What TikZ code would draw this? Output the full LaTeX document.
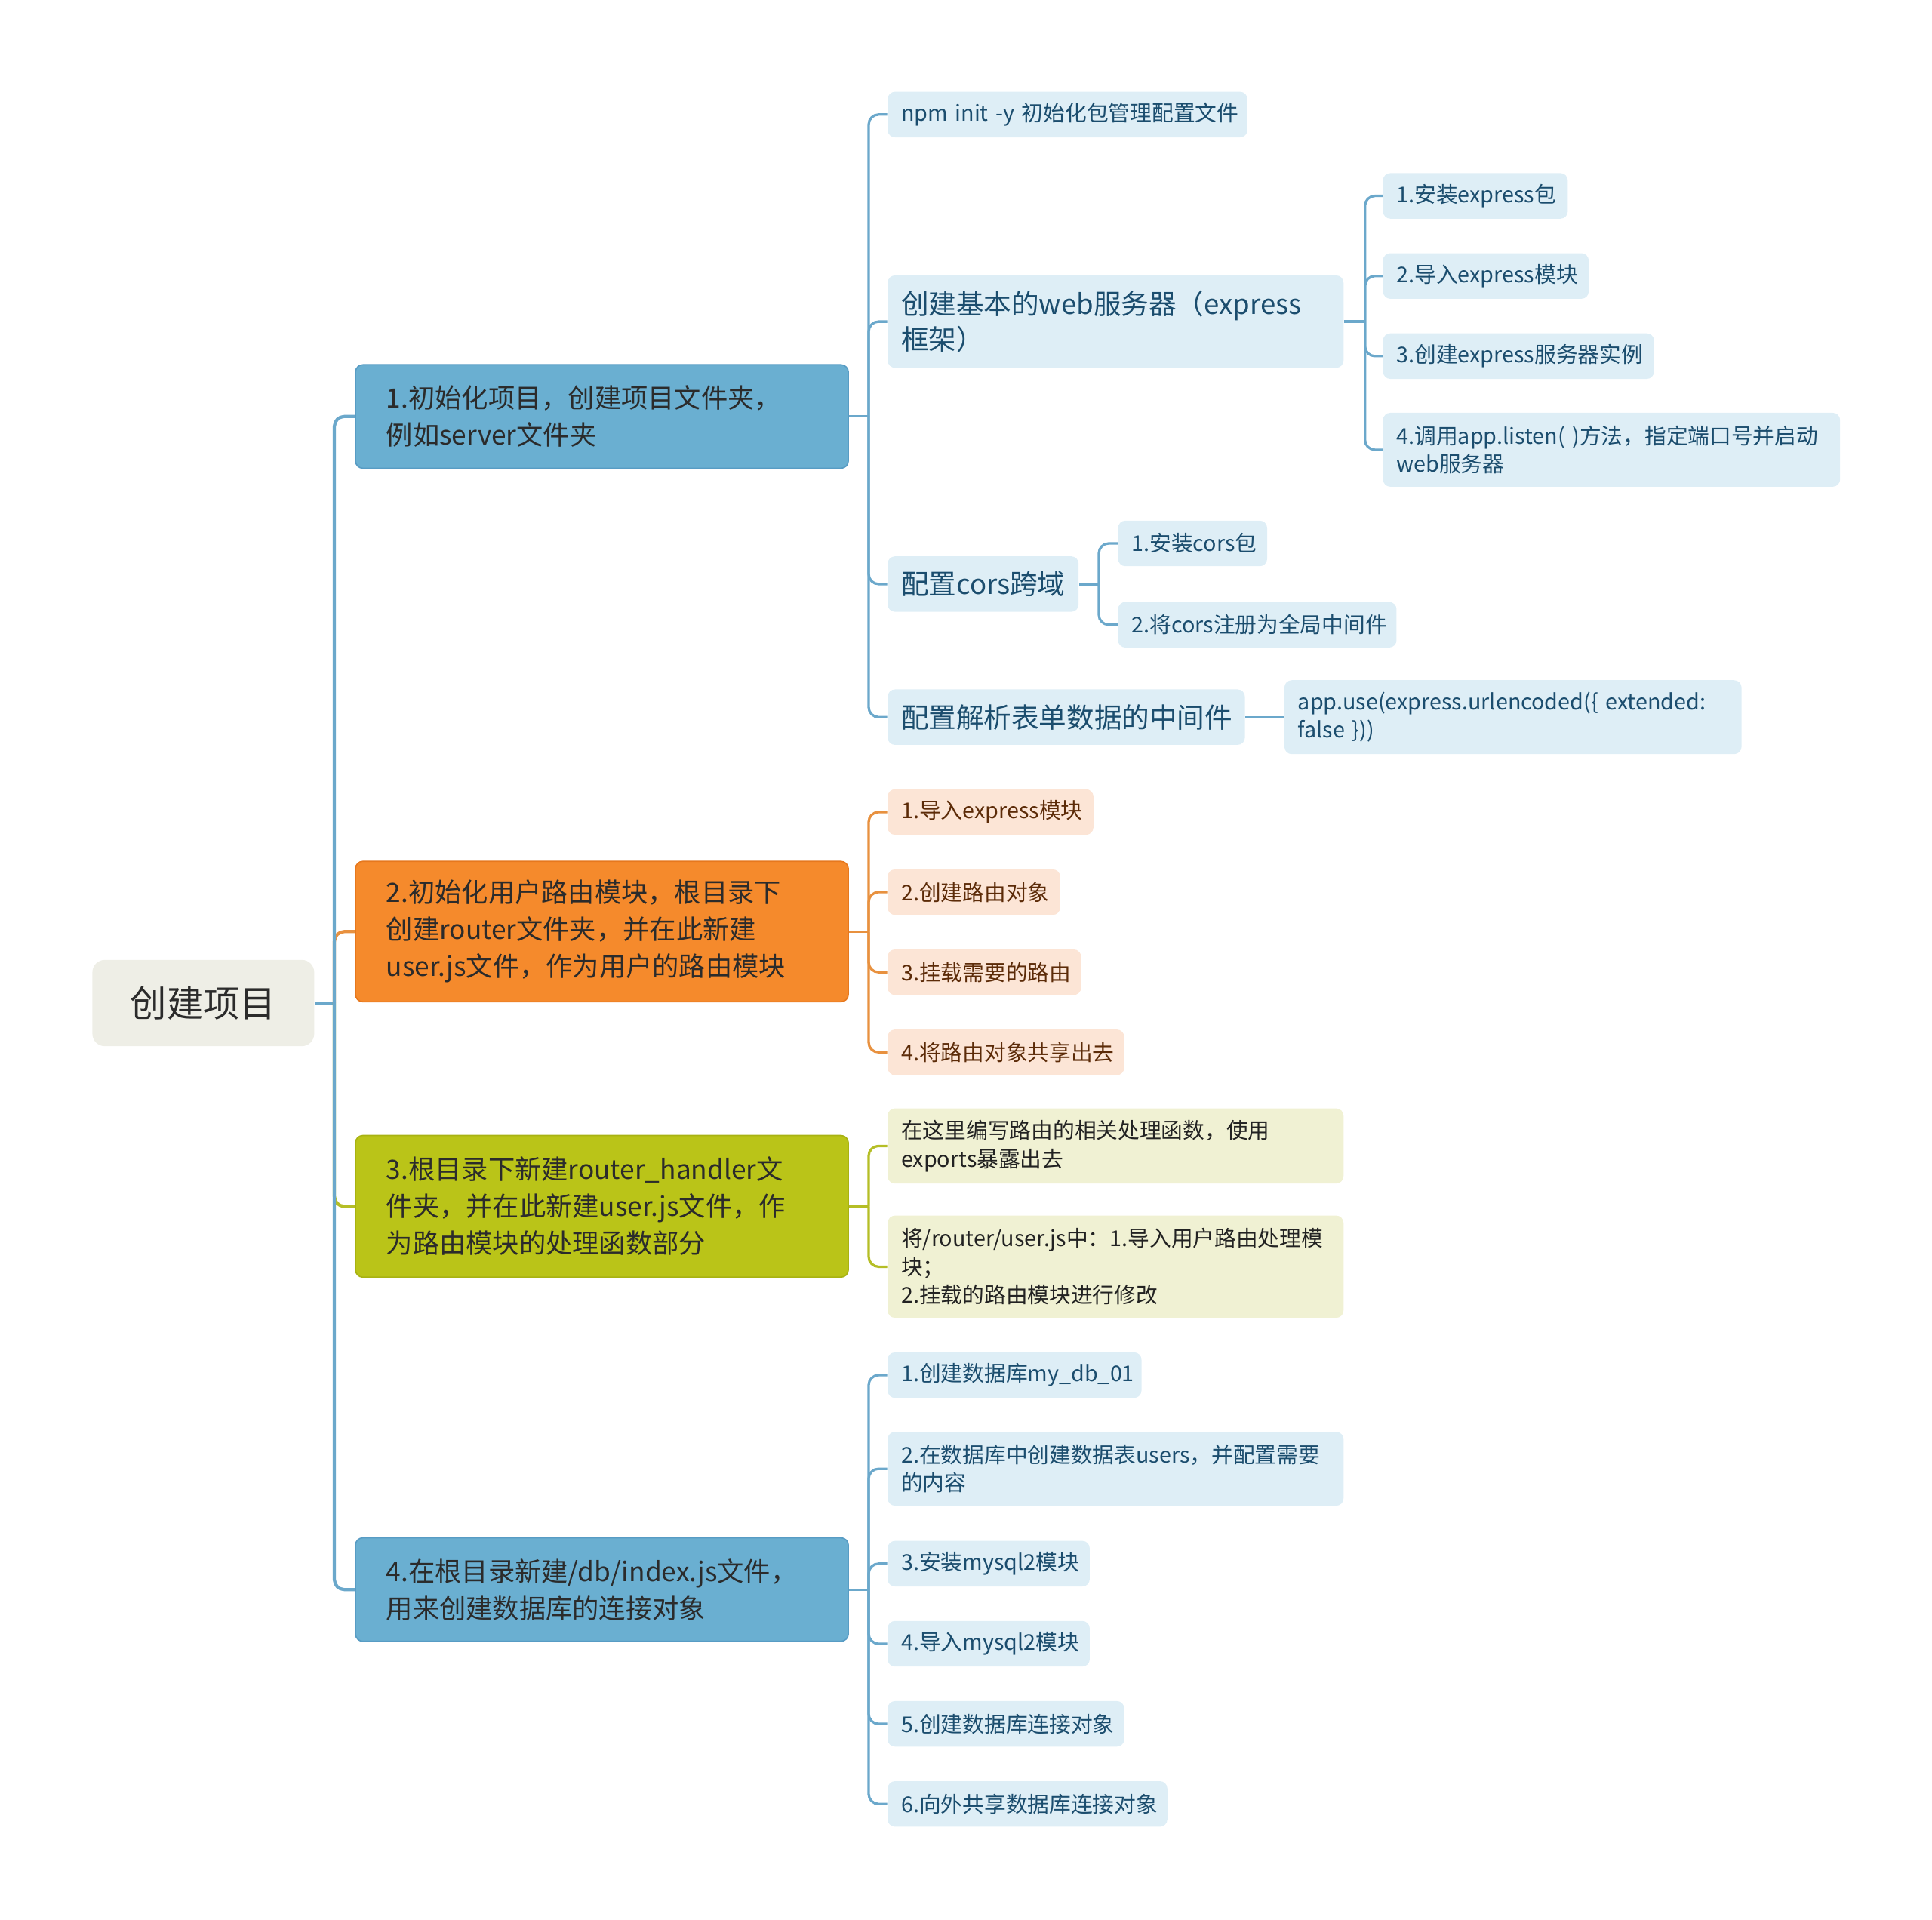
\documentclass[tikz,border=0pt]{standalone}
\usepackage{fontspec}
\setmainfont{Noto Sans CJK SC}
\definecolor{rootgray}{RGB}{238,238,230}
\definecolor{maintext}{RGB}{43,43,43}
\definecolor{topicblue}{RGB}{106,175,209}
\definecolor{topicblueborder}{RGB}{88,156,196}
\definecolor{topicorange}{RGB}{245,138,44}
\definecolor{topicorangeborder}{RGB}{230,120,30}
\definecolor{topicolive}{RGB}{186,196,24}
\definecolor{topicoliveborder}{RGB}{168,178,18}
\definecolor{leafblue}{RGB}{222,238,246}
\definecolor{leafbluetext}{RGB}{27,77,110}
\definecolor{leaforange}{RGB}{252,229,214}
\definecolor{leaforangetext}{RGB}{92,43,8}
\definecolor{leafolive}{RGB}{240,241,211}
\definecolor{leafolivetext}{RGB}{34,34,34}
\definecolor{blueline}{RGB}{107,168,203}
\definecolor{orangeline}{RGB}{232,145,63}
\definecolor{oliveline}{RGB}{181,190,38}
\usetikzlibrary{positioning}
\tikzset{
  rootbox/.style={fill=rootgray,rounded corners=5pt,text=maintext,
    font=\fontsize{14.8}{18}\selectfont,minimum width=90pt,minimum height=35pt},
  topicbox/.style={anchor=west,rounded corners=3pt,line width=0.5pt,text=maintext,
    font=\fontsize{10.8}{15}\selectfont,align=left,text width=175pt,
    inner xsep=12.5pt,inner ysep=2pt},
  subbox/.style={anchor=west,fill=leafblue,rounded corners=3pt,text=leafbluetext,
    font=\fontsize{11.2}{14.5}\selectfont,align=left,inner xsep=5.5pt,inner ysep=2pt},
  leafbox/.style={anchor=west,rounded corners=3pt,
    font=\fontsize{8.8}{11.5}\selectfont,align=left,inner xsep=5.5pt,inner ysep=2pt,
    minimum height=18.5pt},
  blueleaf/.style={leafbox,fill=leafblue,text=leafbluetext},
  orangeleaf/.style={leafbox,fill=leaforange,text=leaforangetext},
  oliveleaf/.style={leafbox,fill=leafolive,text=leafolivetext},
  link/.style={line width=1pt,rounded corners=4pt},
}

\begin{document}
\begin{tikzpicture}[x=0.5pt,y=-0.5pt]
  \useasboundingbox (0,0) rectangle (1568,1558);

  % root and main topics
  \node[rootbox] (root) at (165,814) {创建项目};
  \node[topicbox,fill=topicblue,draw=topicblueborder,minimum height=42pt] (init) at (288,338)
    {1.初始化项目，创建项目文件夹，\\例如server文件夹};
  \node[topicbox,fill=topicorange,draw=topicorangeborder,minimum height=57pt] (router) at (288,756)
    {2.初始化用户路由模块，根目录下\\创建router文件夹，并在此新建\\user.js文件，作为用户的路由模块};
  \node[topicbox,fill=topicolive,draw=topicoliveborder,minimum height=57.5pt] (handler) at (288,979)
    {3.根目录下新建router\_handler文\\件夹，并在此新建user.js文件，作\\为路由模块的处理函数部分};
  \node[topicbox,fill=topicblue,draw=topicblueborder,minimum height=42pt] (db) at (288,1290)
    {4.在根目录新建/db/index.js文件，\\用来创建数据库的连接对象};

  % branch 1
  \node[blueleaf,text width=135pt] (npm) at (720,93) {\mbox{npm init -y 初始化包管理配置文件}};
  \node[subbox,text width=174pt,minimum height=37.5pt] (web) at (720,261)
    {创建基本的web服务器（express\\框架）};
  \node[subbox,text width=66.5pt,minimum height=22.5pt] (cors) at (720,474) {配置cors跨域};
  \node[subbox,text width=134pt,minimum height=22.5pt] (parse) at (720,582) {配置解析表单数据的中间件};

  \node[blueleaf,text width=64pt] (web1) at (1122,159) {1.安装express包};
  \node[blueleaf,text width=72.5pt] (web2) at (1122,224) {2.导入express模块};
  \node[blueleaf,text width=99pt] (web3) at (1122,289) {3.创建express服务器实例};
  \node[blueleaf,text width=174.5pt,minimum height=30pt] (web4) at (1122,365)
    {\mbox{4.调用app.listen( )方法，指定端口号并启动}\\web服务器};

  \node[blueleaf,text width=49.5pt] (cors1) at (907,441) {1.安装cors包};
  \node[blueleaf,text width=102pt] (cors2) at (907,507) {2.将cors注册为全局中间件};

  \node[blueleaf,text width=174.5pt,minimum height=30pt] (parse1) at (1042,582)
    {\mbox{app.use(express.urlencoded(\{ extended:}\\false~\}))};

  % branch 2
  \node[orangeleaf,text width=72.5pt] (rt1) at (720,659) {1.导入express模块};
  \node[orangeleaf,text width=59pt] (rt2) at (720,724) {2.创建路由对象};
  \node[orangeleaf,text width=67.5pt] (rt3) at (720,789) {3.挂载需要的路由};
  \node[orangeleaf,text width=85pt] (rt4) at (720,854) {4.将路由对象共享出去};

  % branch 3
  \node[oliveleaf,text width=174pt,minimum height=30.5pt] (hd1) at (720,930)
    {在这里编写路由的相关处理函数，使用\\exports暴露出去};
  \node[oliveleaf,text width=174pt,minimum height=41.5pt] (hd2) at (720,1028)
    {将/router/user.js中：1.导入用户路由处理模\\块；\\2.挂载的路由模块进行修改};

  % branch 4
  \node[blueleaf,text width=92pt] (db1) at (720,1116) {1.创建数据库my\_db\_01};
  \node[blueleaf,text width=174pt,minimum height=30pt] (db2) at (720,1192)
    {2.在数据库中创建数据表users，并配置需要\\的内容};
  \node[blueleaf,text width=71pt] (db3) at (720,1269) {3.安装mysql2模块};
  \node[blueleaf,text width=71pt] (db4) at (720,1334) {4.导入mysql2模块};
  \node[blueleaf,text width=85pt] (db5) at (720,1399) {5.创建数据库连接对象};
  \node[blueleaf,text width=102.5pt] (db6) at (720,1464) {6.向外共享数据库连接对象};

  % connectors
  \draw[link,blueline,line width=1.3pt] (root.east) -- ++(16,0) coordinate (trunk);
  \draw[link,orangeline,line width=1.3pt] (trunk) |- (router.west);
  \draw[link,oliveline,line width=1.3pt] (trunk) |- (handler.west);
  \draw[link,blueline,line width=1.3pt] (trunk) |- (init.west);
  \draw[link,blueline,line width=1.3pt] (trunk) |- (db.west);

  \draw[link,blueline] (init.east) -- ++(16,0) coordinate (initbus);
  \foreach \c in {npm,web,cors,parse}
    \draw[link,blueline] (initbus) |- (\c.west);
  \draw[link,blueline] (web.east) -- ++(17,0) coordinate (webbus);
  \foreach \c in {web1,web2,web3,web4}
    \draw[link,blueline] (webbus) |- (\c.west);
  \draw[link,blueline] (cors.east) -- ++(16,0) coordinate (corsbus);
  \foreach \c in {cors1,cors2}
    \draw[link,blueline] (corsbus) |- (\c.west);
  \draw[link,blueline] (parse.east) -- (parse1.west);

  \draw[link,orangeline] (router.east) -- ++(16,0) coordinate (routerbus);
  \foreach \c in {rt1,rt2,rt3,rt4}
    \draw[link,orangeline] (routerbus) |- (\c.west);

  \draw[link,oliveline] (handler.east) -- ++(16,0) coordinate (handlerbus);
  \foreach \c in {hd1,hd2}
    \draw[link,oliveline] (handlerbus) |- (\c.west);

  \draw[link,blueline] (db.east) -- ++(16,0) coordinate (dbbus);
  \foreach \c in {db1,db2,db3,db4,db5,db6}
    \draw[link,blueline] (dbbus) |- (\c.west);
\end{tikzpicture}
\end{document}
